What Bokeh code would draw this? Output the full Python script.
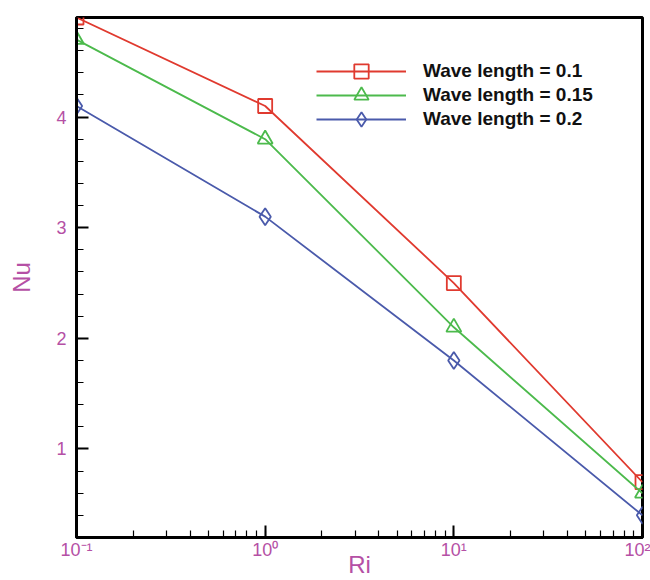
from bokeh.plotting import figure
from bokeh.models import SingleIntervalTicker, LogTicker, Legend, LegendItem
from bokeh.embed import file_html
from bokeh.resources import INLINE

ri = [0.1, 1, 10, 100]
nu_01 = [4.9, 4.1, 2.5, 0.7]
nu_015 = [4.7, 3.8, 2.1, 0.6]
nu_02 = [4.1, 3.1, 1.8, 0.4]
labels = ["Wave length = 0.1", "Wave length = 0.15", "Wave length = 0.2"]
x_tick_labels = {0.1: "10\u207b\u00b9", 1: "10\u2070", 10: "10\u00b9", 100: "10\u00b2"}

LBL = "#b550a5"
colors = ["#e03a2f", "#4cba4c", "#4a5aab"]
markers = ["square", "triangle", "diamond"]
sizes = [14, 15, 17]

p = figure(width=650, height=580, x_axis_type="log", x_range=(0.1, 100), y_range=(0.2, 4.9),
           output_backend="svg", toolbar_location=None,
           min_border_left=76, min_border_right=8, min_border_top=17, min_border_bottom=40)
p.grid.visible = False
p.outline_line_color = "black"
p.outline_line_width = 3
p.background_fill_color = "white"
p.border_fill_color = "white"

legend_y = [448, 424, 400]
for ys, c, m, s, lab, ly in zip([nu_01, nu_015, nu_02], colors, markers, sizes, labels, legend_y):
    r1 = p.line(ri, ys, line_color=c, line_width=1.8)
    r2 = p.scatter(ri, ys, marker=m, size=s, line_color=c, line_width=1.8, fill_color=None)
    leg = Legend(items=[LegendItem(label=lab, renderers=[r1, r2])], location=(240, ly),
                 border_line_color=None, background_fill_alpha=0, padding=0, margin=0,
                 spacing=0, glyph_width=90, glyph_height=36, label_height=36, label_standoff=17,
                 label_text_font="Liberation Sans", label_text_font_style="bold",
                 label_text_font_size="19px", label_text_color="#111111")
    p.add_layout(leg)

p.xaxis.ticker = LogTicker(desired_num_ticks=4, num_minor_ticks=10)
p.xaxis.major_label_overrides = x_tick_labels
p.yaxis.ticker = SingleIntervalTicker(interval=1, num_minor_ticks=5)

for ax in (p.xaxis, p.yaxis):
    ax.axis_line_width = 3
    ax.axis_line_color = "black"
    ax.major_tick_in = 12
    ax.major_tick_out = 0
    ax.minor_tick_in = 7
    ax.minor_tick_out = 0
    ax.major_tick_line_width = 2
    ax.minor_tick_line_width = 1.2
    ax.major_label_text_font = "Liberation Sans"
    ax.major_label_text_font_size = "18px"
    ax.major_label_text_color = LBL
    ax.axis_label_text_font = "Liberation Sans"
    ax.axis_label_text_font_size = "24px"
    ax.axis_label_text_font_style = "normal"
    ax.axis_label_text_color = LBL

p.xaxis.axis_label = "Ri"
p.yaxis.axis_label = "Nu"
p.xaxis.major_label_standoff = 2
p.xaxis.axis_label_standoff = -12
p.yaxis.major_label_standoff = 10
p.yaxis.axis_label_standoff = 18

open("out.html", "w").write(file_html(p, INLINE))
